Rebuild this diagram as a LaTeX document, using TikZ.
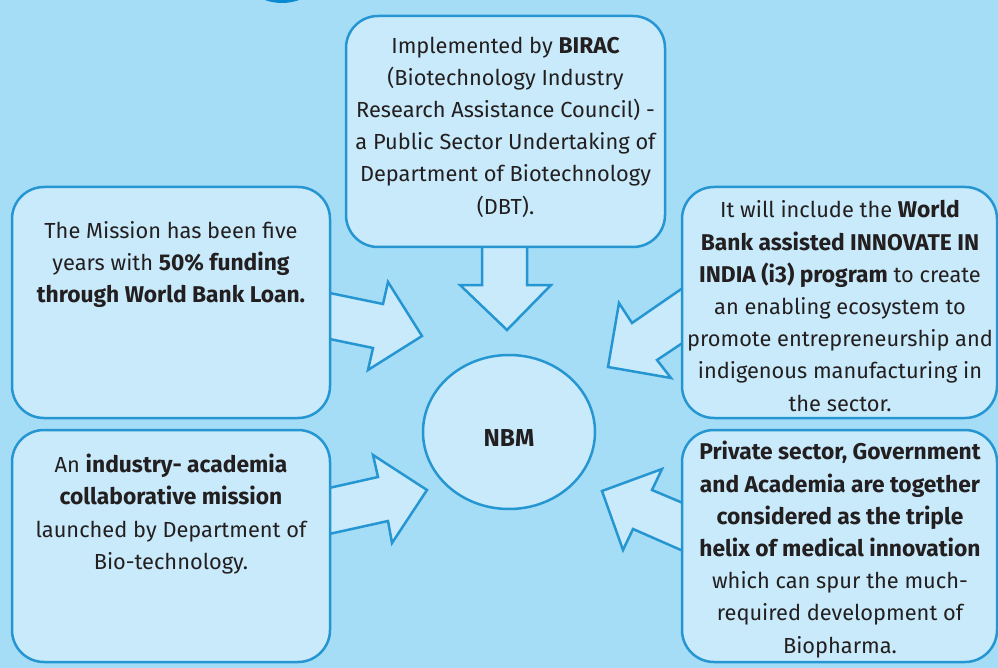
\documentclass[tikz,border=0pt]{standalone}
\usepackage{fontspec}
\usetikzlibrary{shapes.geometric}
\setmainfont{Fira Sans}
\definecolor{bg}{RGB}{166,221,246}
\definecolor{boxfill}{RGB}{200,234,250}
\definecolor{edge}{RGB}{38,150,210}
\definecolor{dot}{RGB}{10,138,208}
\definecolor{txt}{RGB}{35,31,32}
\newcommand\hb[1]{{\fontsize{22.8}{32.2}\selectfont\bfseries #1}}
\tikzset{
  infobox/.style={draw=edge, line width=2.5pt, fill=boxfill, rounded corners=32pt, inner sep=0pt},
  blockarrow/.style={draw=edge, line width=2.5pt, fill=boxfill, line join=miter},
  infotext/.style={text=txt, align=center, inner sep=0pt, font=\fontsize{21.8}{32.2}\selectfont},
}
\begin{document}
\begin{tikzpicture}[x=1pt,y=-1pt]
\fill[bg] (0,0) rectangle (998,668);
\useasboundingbox (0,0) rectangle (998,668);
\begin{scope}
\clip (0,0) rectangle (998,668);
\fill[dot] (282,-48) circle (51);
% block arrows (behind boxes)
\draw[blockarrow] (482,240) -- (482,285) -- (460,285) -- (507,330) -- (551,285) -- (527,285) -- (527,240);
\draw[blockarrow] (320,291) -- (383,304) -- (388,282) -- (422,336) -- (368,370) -- (373,348) -- (320,337);
\draw[blockarrow] (320,490) -- (378,477) -- (373,455) -- (427,490) -- (392,543) -- (388,521) -- (320,536);
\draw[blockarrow] (690,283) -- (632,323) -- (619,303) -- (608,367) -- (671,378) -- (657,360) -- (690,338);
\draw[blockarrow] (690,506) -- (652,490) -- (662,469) -- (602,491) -- (623,550) -- (633,529) -- (690,554);
% boxes
\node[infobox, minimum width=319pt, minimum height=231pt] (top) at (505.5,131.5) {};
\node[infobox, minimum width=318pt, minimum height=231pt] (lt) at (171,302.5) {};
\node[infobox, minimum width=318pt, minimum height=232pt] (lb) at (171,546) {};
\node[infobox, minimum width=315pt, minimum height=231pt] (rt) at (839.5,302.5) {};
\node[infobox, minimum width=315pt, minimum height=232pt] (rb) at (839.5,546) {};
\node[draw=edge, line width=2.5pt, fill=boxfill, ellipse, minimum width=172pt, minimum height=154pt, inner sep=0pt] (nbm) at (509,432) {};
\end{scope}
% texts
\node[infotext] (ttop) at (505.5,127) {Implemented by \hb{BIRAC}\\(Biotechnology Industry\\Research Assistance Council) -\\a Public Sector Undertaking of\\Department of Biotechnology\\(DBT).};
\node[infotext] (tlt) at (171,264.5) {The Mission has been five\\years with \hb{50\% funding}\\\hb{through World Bank Loan.}};
\node[infotext] (tlb) at (171,514) {An \hb{industry- academia}\\\hb{collaborative mission}\\launched by Department of\\Bio-technology.};
\node[infotext] (trt) at (840,306) {It will include the \hb{World}\\\hb{Bank assisted INNOVATE IN}\\\hb{INDIA (i3) program} to create\\an enabling ecosystem to\\promote entrepreneurship and\\indigenous manufacturing in\\the sector.};
\node[infotext] (trb) at (840,549.5) {\hb{Private sector, Government}\\\hb{and Academia are together}\\\hb{considered as the triple}\\\hb{helix of medical innovation}\\which can spur the much-\\required development of\\Biopharma.};
\node[infotext, font=\fontsize{24.5}{28}\bfseries] (tnbm) at (nbm.center) [yshift=-6pt] {NBM};
\end{tikzpicture}
\end{document}
